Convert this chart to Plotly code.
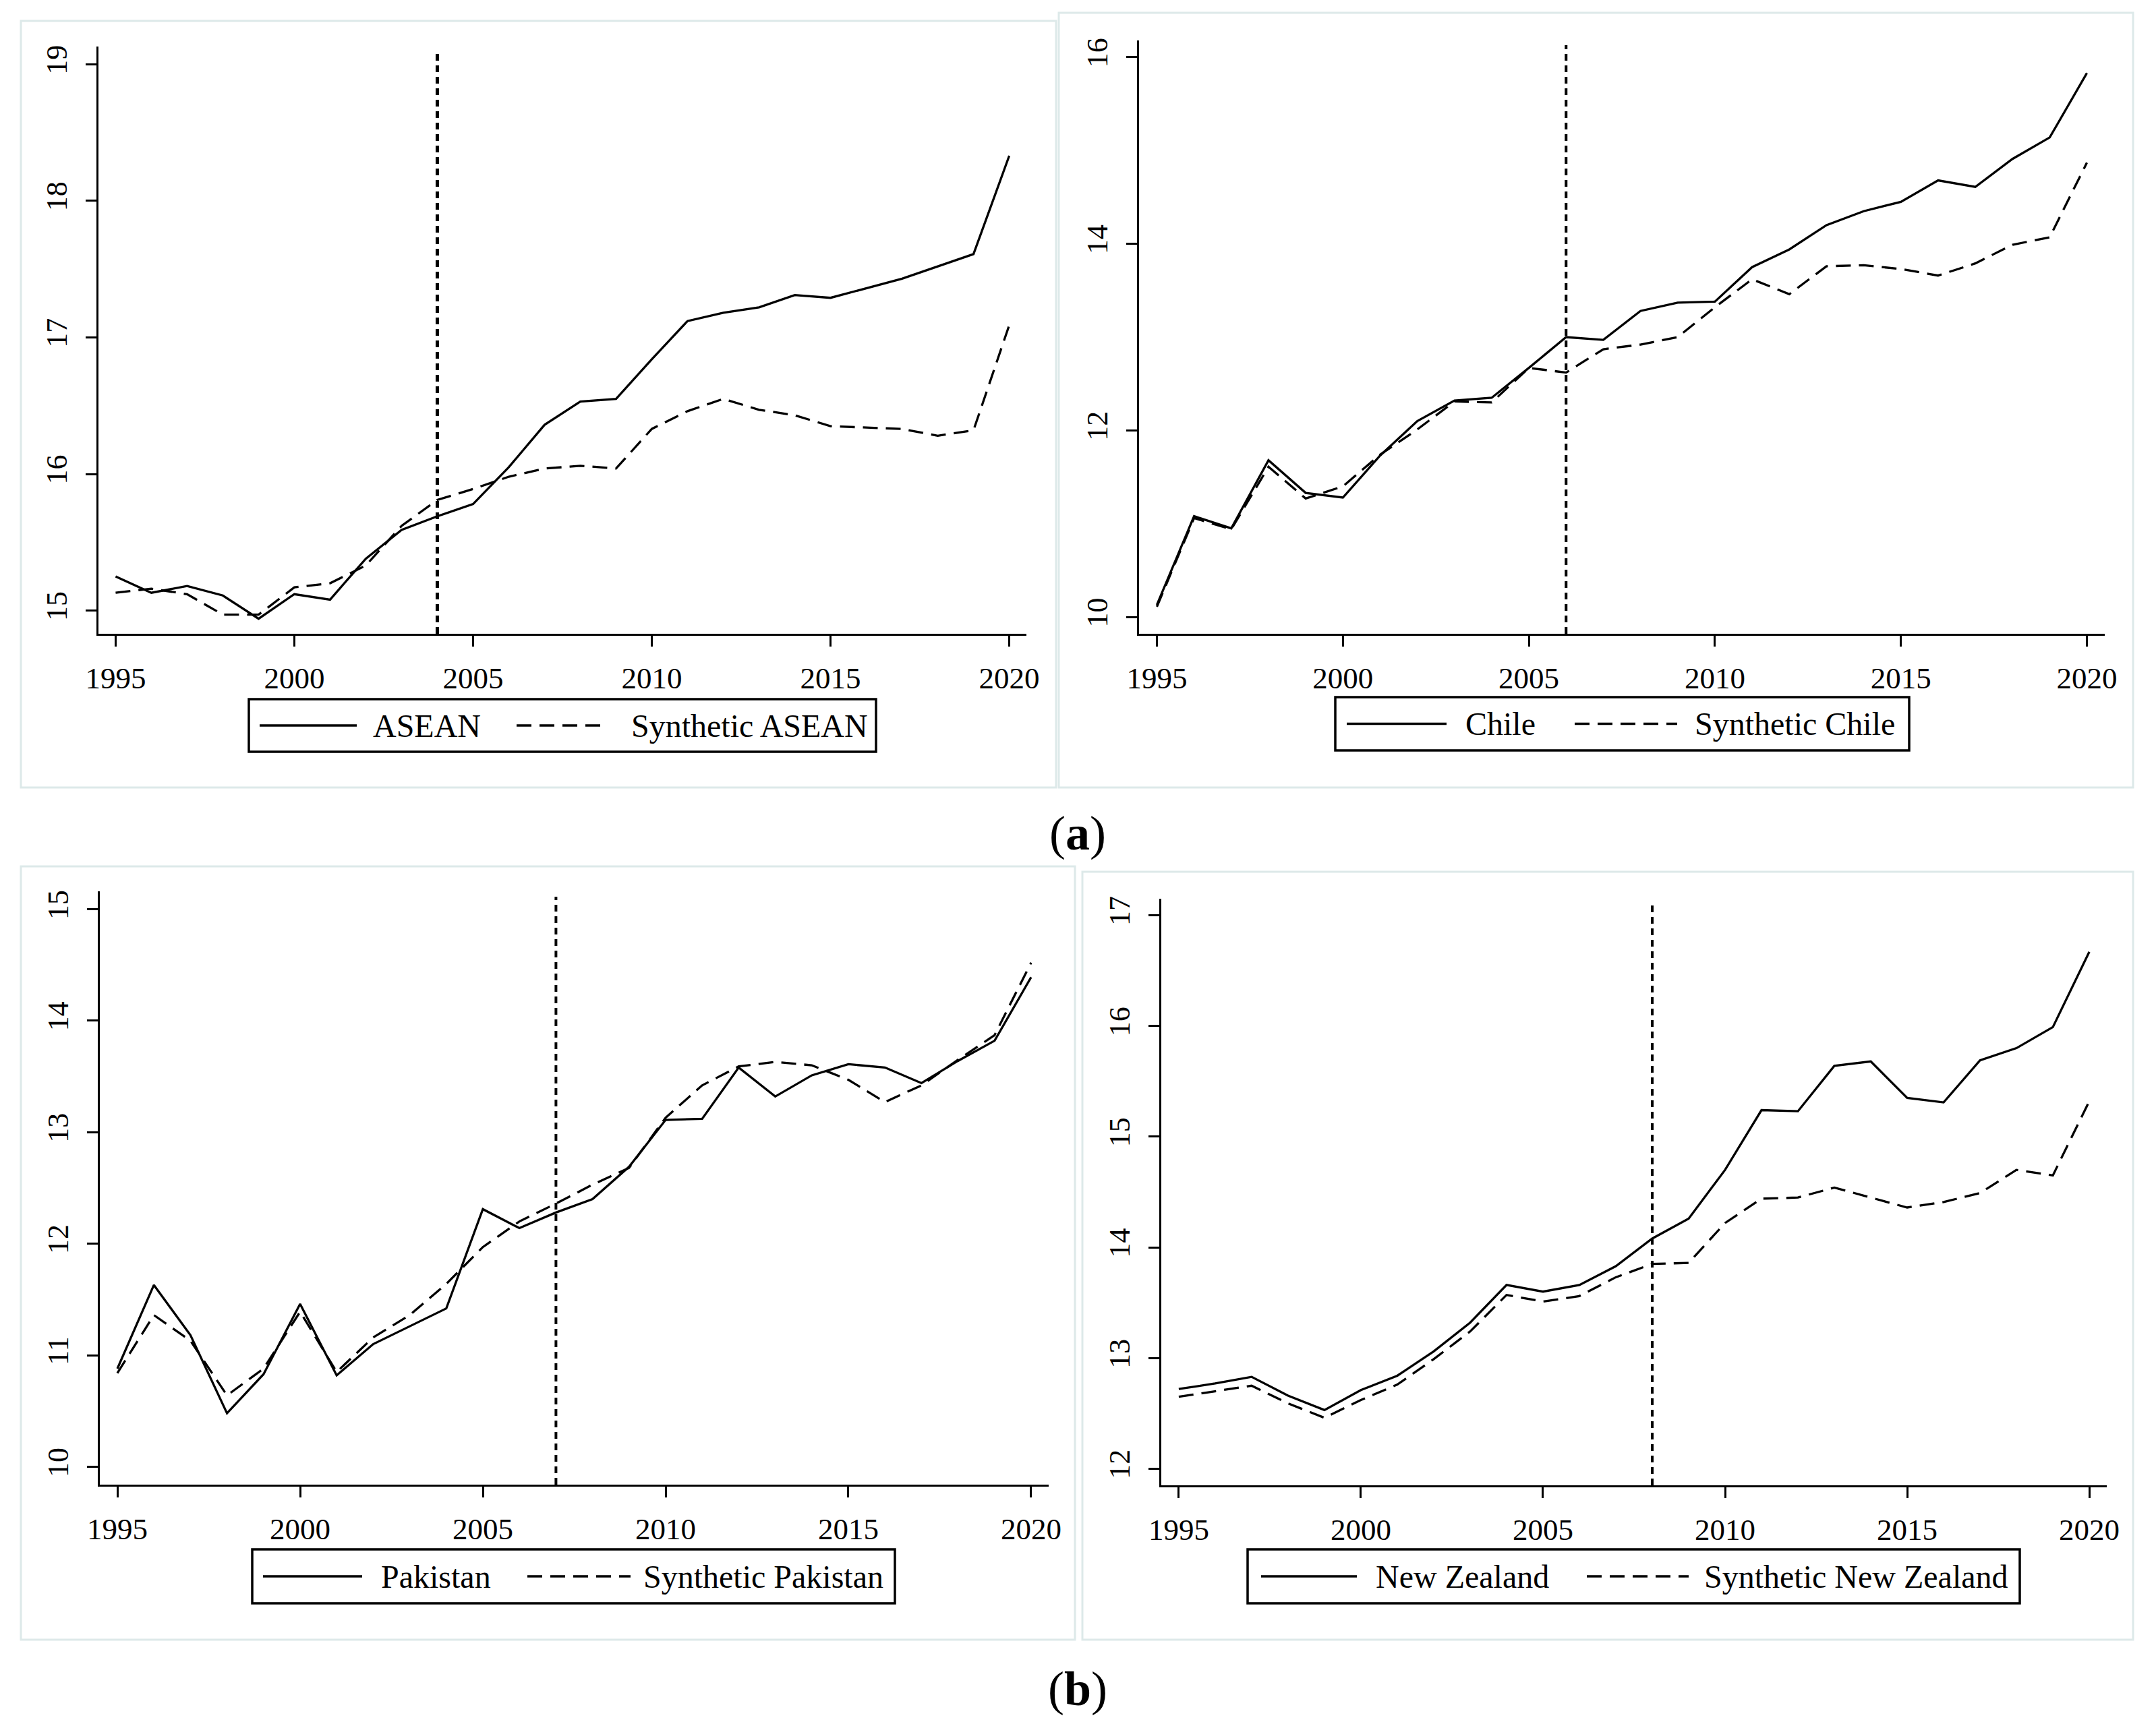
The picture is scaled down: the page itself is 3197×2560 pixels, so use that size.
import plotly.graph_objects as go

# ---------------- data ----------------
years = list(range(1995, 2021))

asean = [15.25, 15.13, 15.18, 15.11, 14.94, 15.12, 15.08, 15.38, 15.59, 15.69,
         15.78, 16.05, 16.36, 16.53, 16.55, 16.84, 17.12, 17.18, 17.22, 17.31,
         17.29, 17.36, 17.43, 17.52, 17.61, 18.33]
synthetic_asean = [15.13, 15.16, 15.12, 14.97, 14.97, 15.17, 15.20, 15.33, 15.62, 15.81,
                   15.89, 15.98, 16.04, 16.06, 16.04, 16.33, 16.46, 16.55, 16.47, 16.43,
                   16.35, 16.34, 16.33, 16.28, 16.32, 17.09]

chile = [10.13, 11.08, 10.95, 11.68, 11.33, 11.28, 11.73, 12.10, 12.32, 12.35,
         12.67, 13.00, 12.97, 13.28, 13.37, 13.38, 13.75, 13.94, 14.20, 14.35,
         14.45, 14.68, 14.61, 14.91, 15.14, 15.83]
synthetic_chile = [10.11, 11.06, 10.94, 11.61, 11.27, 11.40, 11.74, 12.01, 12.31, 12.30,
                   12.67, 12.62, 12.87, 12.92, 13.00, 13.32, 13.62, 13.46, 13.76, 13.77,
                   13.73, 13.66, 13.79, 13.99, 14.07, 14.87]

pakistan = [10.88, 11.63, 11.18, 10.48, 10.83, 11.46, 10.82, 11.10, 11.26, 11.42,
            12.31, 12.14, 12.28, 12.40, 12.69, 13.11, 13.12, 13.58, 13.32, 13.51,
            13.61, 13.58, 13.44, 13.64, 13.82, 14.39]
synthetic_pakistan = [10.84, 11.36, 11.13, 10.64, 10.88, 11.39, 10.85, 11.16, 11.36, 11.64,
                      11.97, 12.20, 12.36, 12.53, 12.68, 13.13, 13.42, 13.59, 13.63, 13.60,
                      13.47, 13.27, 13.42, 13.65, 13.87, 14.52]

new_zealand = [12.72, 12.77, 12.83, 12.66, 12.53, 12.71, 12.84, 13.06, 13.32, 13.66,
               13.60, 13.66, 13.83, 14.08, 14.26, 14.70, 15.24, 15.23, 15.64, 15.68,
               15.35, 15.31, 15.69, 15.80, 15.99, 16.67]
synthetic_new_zealand = [12.65, 12.70, 12.75, 12.59, 12.46, 12.62, 12.76, 12.99, 13.24, 13.57,
                         13.51, 13.56, 13.73, 13.85, 13.86, 14.22, 14.44, 14.45, 14.54, 14.45,
                         14.36, 14.41, 14.49, 14.70, 14.65, 15.32]

names = ["ASEAN", "Chile", "Pakistan", "New Zealand"]
treatment_years = [2004, 2006, 2007, 2008]
x_tick_labels = [1995, 2000, 2005, 2010, 2015, 2020]
y_tick_values = [[15, 16, 17, 18, 19], [10, 12, 14, 16], [10, 11, 12, 13, 14, 15],
                 [12, 13, 14, 15, 16, 17]]
panel_labels = ["a", "b"]

actual_series = [asean, chile, pakistan, new_zealand]
synthetic_series = [synthetic_asean, synthetic_chile, synthetic_pakistan, synthetic_new_zealand]

# ---------------- layout geometry (pixels in the 3197x2560 window) ----------------
WIN_W, WIN_H = 3197, 2560
BODY = 8  # default page margin around the plot div
W, H = WIN_W - 2 * BODY, WIN_H - 2 * BODY
FONT = "Liberation Serif"


def fx(p):
    return (p - BODY) / W


def fy(p):
    return 1 - (p - BODY) / H


plot_boxes = [  # x0, x1, ytop, ybottom
    (146, 1522, 69, 940),
    (1689, 3121, 60, 940),
    (148, 1555, 1322, 2202),
    (1722, 3124, 1333, 2203),
]
y_ranges = [(14.83, 19.13), (9.82, 16.18), (9.84, 15.16), (11.85, 17.15)]
vline_tops = [0.991, 0.992, 0.991, 0.993]
vline_widths = [5, 4, 4, 4]
frames = [(31, 1566, 31, 1168), (1570, 3163, 19, 1168),
          (31, 1594, 1285, 2432), (1605, 3163, 1293, 2432)]
legend_boxes = [  # box x0,x1,y0,y1 ; solid x0,x1 ; label x ; dash x0,x1 ; synth label x
    (369, 1299, 1037, 1115, 385, 529, 551, 766, 900, 934),
    (1980, 2831, 1034, 1113, 1997, 2145, 2171, 2335, 2487, 2511),
    (374, 1327, 2298, 2378, 390, 537, 563, 782, 935, 952),
    (1850, 2995, 2298, 2378, 1870, 2012, 2038, 2353, 2504, 2525),
]

fig = go.Figure()
shapes = []
annotations = []

for i in range(4):
    xa = "x" if i == 0 else f"x{i + 1}"
    ya = "y" if i == 0 else f"y{i + 1}"
    fig.add_trace(go.Scatter(x=years, y=actual_series[i], mode="lines", name=names[i],
                             xaxis=xa, yaxis=ya, showlegend=False,
                             line=dict(color="black", width=3.3)))
    fig.add_trace(go.Scatter(x=years, y=synthetic_series[i], mode="lines",
                             name="Synthetic " + names[i], xaxis=xa, yaxis=ya,
                             showlegend=False,
                             line=dict(color="black", width=3.3, dash="22px,12px")))

    x0, x1, yt, yb = plot_boxes[i]
    common = dict(showline=True, linecolor="black", linewidth=3, ticks="outside",
                  ticklen=16, tickwidth=3, tickcolor="black", showgrid=False,
                  zeroline=False, mirror=False, automargin=False)
    xkey = "xaxis" if i == 0 else f"xaxis{i + 1}"
    ykey = "yaxis" if i == 0 else f"yaxis{i + 1}"
    fig.update_layout(**{
        xkey: dict(domain=[fx(x0), fx(x1)], range=[1994.52, 2020.48], anchor=ya,
                   tickvals=x_tick_labels, ticktext=[str(v) for v in x_tick_labels],
                   tickfont=dict(family=FONT, size=45, color="black"),
                   ticklabelstandoff=8, **common),
        ykey: dict(domain=[fy(yb), fy(yt)], range=list(y_ranges[i]), anchor=xa,
                   tickvals=y_tick_values[i], tickangle=-90,
                   tickfont=dict(family=FONT, size=44, color="black"),
                   ticklabelstandoff=10, **common),
    })

    # treatment line
    shapes.append(dict(type="line", xref=xa, yref=f"{ya} domain",
                       x0=treatment_years[i], x1=treatment_years[i], y0=0, y1=vline_tops[i],
                       line=dict(color="black", width=vline_widths[i], dash="10px,7px")))

    # panel frame
    a, b, c, d = frames[i]
    shapes.append(dict(type="rect", xref="paper", yref="paper",
                       x0=fx(a), x1=fx(b), y0=fy(d), y1=fy(c),
                       line=dict(color="#dde9e9", width=3), layer="below"))

    # legend
    bx0, bx1, by0, by1, s0, s1, lx, d0, d1, sx = legend_boxes[i]
    ymid = (by0 + by1) / 2
    shapes.append(dict(type="rect", xref="paper", yref="paper",
                       x0=fx(bx0), x1=fx(bx1), y0=fy(by1), y1=fy(by0),
                       line=dict(color="black", width=3.5)))
    shapes.append(dict(type="line", xref="paper", yref="paper",
                       x0=fx(s0), x1=fx(s1), y0=fy(ymid), y1=fy(ymid),
                       line=dict(color="black", width=3.3)))
    shapes.append(dict(type="line", xref="paper", yref="paper",
                       x0=fx(d0), x1=fx(d1), y0=fy(ymid), y1=fy(ymid),
                       line=dict(color="black", width=3.3, dash="22px,12px")))
    annotations.append(dict(xref="paper", yref="paper", x=fx(lx), y=fy(ymid),
                            xanchor="left", yanchor="middle", showarrow=False,
                            text=names[i], font=dict(family=FONT, size=48, color="black")))
    annotations.append(dict(xref="paper", yref="paper", x=fx(sx), y=fy(ymid),
                            xanchor="left", yanchor="middle", showarrow=False,
                            text="Synthetic " + names[i],
                            font=dict(family=FONT, size=48, color="black")))

for lab, ypix in zip(panel_labels, [1236, 2505]):
    annotations.append(dict(xref="paper", yref="paper", x=fx(1598), y=fy(ypix),
                            xanchor="center", yanchor="middle", showarrow=False,
                            text=f"(<b>{lab}</b>)",
                            font=dict(family=FONT, size=72, color="black")))

fig.update_layout(width=W, height=H, autosize=False,
                  margin=dict(l=0, r=0, t=0, b=0, pad=0),
                  paper_bgcolor="white", plot_bgcolor="white",
                  shapes=shapes, annotations=annotations, showlegend=False)

fig.write_html("out.html")
